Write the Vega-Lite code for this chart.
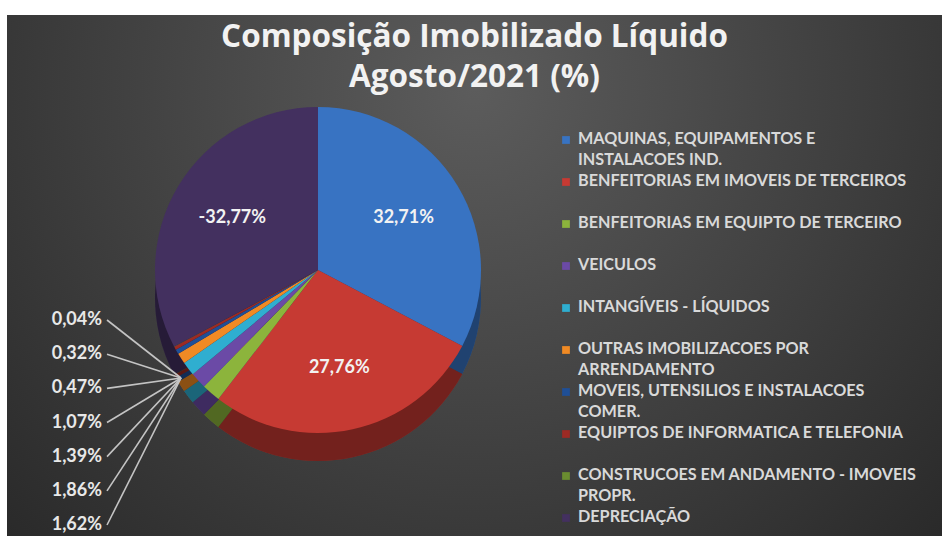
{
  "$schema": "https://vega.github.io/schema/vega-lite/v6.json",
  "width": 935,
  "height": 521,
  "autosize": {"type": "none"},
  "padding": {"left": 7, "top": 15, "right": 0, "bottom": 0},
  "background": "#ffffff",
  "config": {
    "view": {
      "stroke": null,
      "fill": {"gradient": "radial", "x1": 0.5, "y1": 0.3, "r1": 0, "x2": 0.5, "y2": 0.3, "r2": 0.8,
        "stops": [{"offset": 0, "color": "#5c5c5c"}, {"offset": 1, "color": "#222222"}]}
    }
  },
  "title": {
    "text": ["Composição Imobilizado Líquido", "Agosto/2021 (%)"],
    "color": "#f2f2f2",
    "font": "Open Sans",
    "fontWeight": "bold",
    "fontSize": 31.5,
    "lineHeight": 40,
    "anchor": "middle",
    "frame": "group",
    "offset": -78
  },
  "data": {
    "values": [
      {"order": 1, "categoria": "MAQUINAS, EQUIPAMENTOS E INSTALACOES IND.", "valor": 32.71, "share": 32.71, "rotulo": "32,71%"},
      {"order": 2, "categoria": "BENFEITORIAS EM IMOVEIS DE TERCEIROS", "valor": 27.76, "share": 27.76, "rotulo": "27,76%"},
      {"order": 3, "categoria": "BENFEITORIAS EM EQUIPTO DE TERCEIRO", "valor": 1.86, "share": 1.86, "rotulo": "1,86%"},
      {"order": 4, "categoria": "VEICULOS", "valor": 1.62, "share": 1.62, "rotulo": "1,62%"},
      {"order": 5, "categoria": "INTANGÍVEIS - LÍQUIDOS", "valor": 1.39, "share": 1.39, "rotulo": "1,39%"},
      {"order": 6, "categoria": "OUTRAS IMOBILIZACOES POR ARRENDAMENTO", "valor": 1.07, "share": 1.07, "rotulo": "1,07%"},
      {"order": 7, "categoria": "MOVEIS, UTENSILIOS E INSTALACOES COMER.", "valor": 0.47, "share": 0.47, "rotulo": "0,47%"},
      {"order": 8, "categoria": "EQUIPTOS DE INFORMATICA E TELEFONIA", "valor": 0.32, "share": 0.32, "rotulo": "0,32%"},
      {"order": 9, "categoria": "CONSTRUCOES EM ANDAMENTO - IMOVEIS PROPR.", "valor": 0.04, "share": 0.04, "rotulo": "0,04%"},
      {"order": 10, "categoria": "DEPRECIAÇÃO", "valor": -32.77, "share": 32.77, "rotulo": "-32,77%"}
    ]
  },
  "encoding": {
    "color": {
      "field": "categoria",
      "type": "nominal",
      "legend": null,
      "scale": {
        "domain": [
          "MAQUINAS, EQUIPAMENTOS E INSTALACOES IND.",
          "BENFEITORIAS EM IMOVEIS DE TERCEIROS",
          "BENFEITORIAS EM EQUIPTO DE TERCEIRO",
          "VEICULOS",
          "INTANGÍVEIS - LÍQUIDOS",
          "OUTRAS IMOBILIZACOES POR ARRENDAMENTO",
          "MOVEIS, UTENSILIOS E INSTALACOES COMER.",
          "EQUIPTOS DE INFORMATICA E TELEFONIA",
          "CONSTRUCOES EM ANDAMENTO - IMOVEIS PROPR.",
          "DEPRECIAÇÃO"
        ],
        "range": ["#3873c2", "#c63a33", "#8cb43c", "#6b4aa6", "#2faed0", "#f08a24", "#1f4f96", "#9c2a24", "#6a8c30", "#43305f"]
      }
    }
  },
  "resolve": {"scale": {"y": "independent"}},
  "layer": [
    {
      "mark": {"type": "arc", "outerRadius": 163, "stroke": null},
      "encoding": {
        "theta": {"field": "share", "type": "quantitative", "stack": true},
        "order": {"field": "order", "type": "quantitative"},
        "x": {"value": 311},
        "y": {"value": 283}
      }
    },
    {
      "mark": {"type": "arc", "outerRadius": 163, "fill": "#000000", "fillOpacity": 0.42, "stroke": null},
      "encoding": {
        "theta": {"field": "share", "type": "quantitative", "stack": true},
        "order": {"field": "order", "type": "quantitative"},
        "x": {"value": 311},
        "y": {"value": 283}
      }
    },
    {
      "mark": {"type": "arc", "outerRadius": 163, "stroke": null},
      "encoding": {
        "theta": {"field": "share", "type": "quantitative", "stack": true},
        "order": {"field": "order", "type": "quantitative"},
        "x": {"value": 311},
        "y": {"value": 255}
      }
    },
    {
      "mark": {"type": "text", "font": "Lato", "fontWeight": "bold", "fontSize": 18, "radius": 100},
      "encoding": {
        "theta": {"field": "share", "type": "quantitative", "stack": true},
        "order": {"field": "order", "type": "quantitative"},
        "x": {"value": 311},
        "y": {"value": 255},
        "color": {"value": "#f2f2f2"},
        "text": {"condition": {"test": "datum.share > 5", "field": "rotulo"}, "value": ""}
      }
    },
    {
      "transform": [{"filter": "datum.share < 5"}],
      "encoding": {
        "y": {
          "field": "categoria", "type": "ordinal", "axis": null,
          "scale": {"type": "point", "padding": 0, "range": [305, 510], "domain": [
            "CONSTRUCOES EM ANDAMENTO - IMOVEIS PROPR.",
            "EQUIPTOS DE INFORMATICA E TELEFONIA",
            "MOVEIS, UTENSILIOS E INSTALACOES COMER.",
            "OUTRAS IMOBILIZACOES POR ARRENDAMENTO",
            "INTANGÍVEIS - LÍQUIDOS",
            "BENFEITORIAS EM EQUIPTO DE TERCEIRO",
            "VEICULOS"
          ]}
        }
      },
      "layer": [
        {
          "mark": {"type": "rule", "strokeWidth": 1.6},
          "encoding": {
            "x": {"value": 100},
            "x2": {"value": 174},
            "y2": {"value": 363},
            "color": {"value": "#c4c4c4"}
          }
        },
        {
          "mark": {"type": "text", "font": "Lato", "fontWeight": "bold", "fontSize": 18, "align": "right", "baseline": "middle"},
          "encoding": {
            "x": {"value": 95},
            "text": {"field": "rotulo"},
            "color": {"value": "#e8e8e8"}
          }
        }
      ]
    },
    {
      "transform": [
        {"calculate": "datum.categoria == 'MAQUINAS, EQUIPAMENTOS E INSTALACOES IND.' ? 'MAQUINAS, EQUIPAMENTOS E|INSTALACOES IND.' : datum.categoria == 'OUTRAS IMOBILIZACOES POR ARRENDAMENTO' ? 'OUTRAS IMOBILIZACOES POR|ARRENDAMENTO' : datum.categoria == 'MOVEIS, UTENSILIOS E INSTALACOES COMER.' ? 'MOVEIS, UTENSILIOS E INSTALACOES|COMER.' : datum.categoria == 'CONSTRUCOES EM ANDAMENTO - IMOVEIS PROPR.' ? 'CONSTRUCOES EM ANDAMENTO - IMOVEIS|PROPR.' : datum.categoria", "as": "legenda"}
      ],
      "encoding": {
        "y": {
          "field": "categoria", "type": "ordinal", "axis": null,
          "scale": {"type": "point", "padding": 0, "range": [125, 503], "domain": [
            "MAQUINAS, EQUIPAMENTOS E INSTALACOES IND.",
            "BENFEITORIAS EM IMOVEIS DE TERCEIROS",
            "BENFEITORIAS EM EQUIPTO DE TERCEIRO",
            "VEICULOS",
            "INTANGÍVEIS - LÍQUIDOS",
            "OUTRAS IMOBILIZACOES POR ARRENDAMENTO",
            "MOVEIS, UTENSILIOS E INSTALACOES COMER.",
            "EQUIPTOS DE INFORMATICA E TELEFONIA",
            "CONSTRUCOES EM ANDAMENTO - IMOVEIS PROPR.",
            "DEPRECIAÇÃO"
          ]}
        }
      },
      "layer": [
        {
          "mark": {"type": "square", "size": 60, "opacity": 1, "filled": true},
          "encoding": {
            "x": {"value": 559}
          }
        },
        {
          "mark": {"type": "text", "font": "Lato", "fontWeight": "bold", "fontSize": 16.2, "align": "left", "baseline": "top", "dy": -9, "lineHeight": 21, "lineBreak": "|"},
          "encoding": {
            "x": {"value": 571},
            "text": {"field": "legenda"},
            "color": {"value": "#d9d9d9"}
          }
        }
      ]
    }
  ]
}
